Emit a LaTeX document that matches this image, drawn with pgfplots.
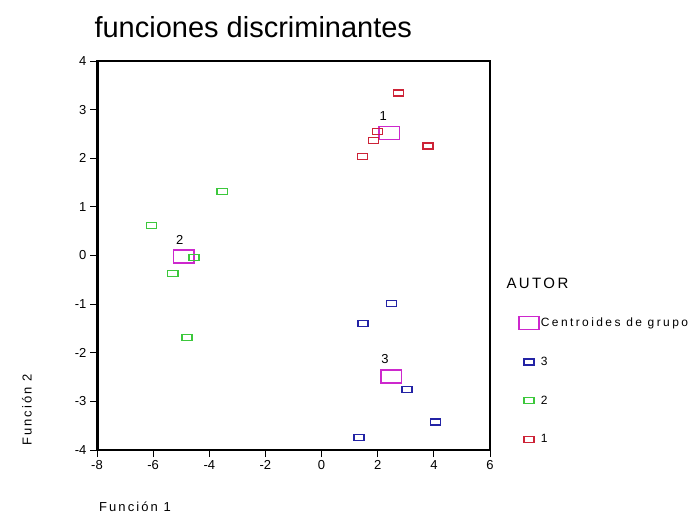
\documentclass[border=0pt]{standalone}
\usepackage{pgfplots}
\pgfplotsset{compat=1.18}
\usepackage{fontspec}
\setmainfont{Liberation Sans}
\newfontfamily\spaced[LetterSpace=16]{Liberation Sans}
\newfontfamily\spacedb[LetterSpace=20]{Liberation Sans}
\definecolor{cred}{RGB}{205,35,55}
\definecolor{cgreen}{RGB}{60,200,60}
\definecolor{cblue}{RGB}{35,35,165}
\definecolor{cmag}{RGB}{205,40,205}
\begin{document}
\begin{tikzpicture}[x=1pt,y=1pt]
\path (0,0) rectangle (695,520);
\begin{axis}[
  at={(97pt,70pt)}, anchor=south west,
  width=393pt, height=389pt, scale only axis,
  xmin=-8, xmax=6, ymin=-4, ymax=4,
  xtick={-8,-6,...,6}, ytick={-4,-3,...,4},
  tick align=outside, major tick length=7pt,
  xtick pos=bottom, ytick pos=left,
  tick style={black, line width=1pt},
  axis line style={line width=1.2pt},
  ticklabel style={font=\fontsize{13}{14}\selectfont},
  /pgf/number format/assume math mode=true,
  clip=false,
  legend style={at={(1.065,0.351)}, anchor=north west, draw=none, fill=none,
    row sep=25pt, font=\spacedb\fontsize{12}{13}\selectfont, cells={anchor=west}},
  legend cell align=left,
]
\draw[line width=3pt] (rel axis cs:0,0) -- (rel axis cs:0,1);
\draw[line width=2pt] (rel axis cs:0,0) -- (rel axis cs:1,0);
\addplot[only marks, mark=square, mark size=6.5pt, mark options={xscale=1.55, draw=cmag, line width=1.5pt}] coordinates {(2.41,2.52) (-4.91,-0.02) (2.48,-2.49)};
\addlegendentry{Centroides de grupo}
\addplot[only marks, mark=square, mark size=3pt, mark options={xscale=1.67, draw=cblue, line width=1.4pt}] coordinates {(2.50,-0.99) (1.47,-1.40) (3.04,-2.75) (4.06,-3.42) (1.33,-3.74)};
\addlegendentry{3}
\addplot[only marks, mark=square, mark size=3pt, mark options={xscale=1.67, draw=cgreen, line width=1.4pt}] coordinates {(-3.54,1.32) (-6.05,0.62) (-4.55,-0.04) (-5.30,-0.37) (-4.80,-1.69)};
\addlegendentry{2}
\addplot[only marks, mark=square, mark size=3pt, mark options={xscale=1.67, draw=cred, line width=1.4pt}] coordinates {(2.73,3.34) (2.00,2.55) (1.84,2.36) (1.46,2.03) (3.79,2.25)};
\addlegendentry{1}
\node[font=\fontsize{13}{14}\selectfont] at (axis cs:2.2,2.86) {1};
\node[font=\fontsize{13}{14}\selectfont] at (axis cs:-5.05,0.31) {2};
\node[font=\fontsize{13}{14}\selectfont] at (axis cs:2.26,-2.12) {3};
\end{axis}
\node[anchor=base west, font=\fontsize{29}{31}\selectfont] at (91,482) {funciones discriminantes};
\node[anchor=west, font=\spaced\fontsize{15}{16}\selectfont] at (503,237) {AUTOR};
\node[rotate=90, font=\spaced\fontsize{13}{14}\selectfont] at (27,110) {Función 2};
\node[font=\spaced\fontsize{13}{14}\selectfont] at (135,13) {Función 1};
\end{tikzpicture}
\end{document}
